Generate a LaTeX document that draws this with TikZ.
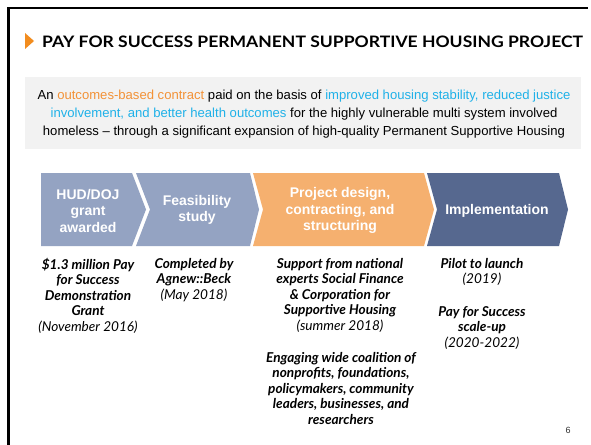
\documentclass[tikz,border=0pt]{standalone}
\usepackage{fontspec}
\setmainfont{Liberation Sans}
\newfontfamily\gill{Lato}
\definecolor{markorange}{HTML}{F28C1E}
\definecolor{panelgray}{HTML}{F2F2F2}
\definecolor{txtorange}{HTML}{F39237}
\definecolor{txtblue}{HTML}{1FB1E8}
\definecolor{chevgray}{HTML}{94A3C2}
\definecolor{chevorange}{HTML}{F5B06F}
\definecolor{chevdark}{HTML}{56688F}
\begin{document}
\begin{tikzpicture}[x=1pt,y=-1pt,
  chevtext/.style={text=white,align=center,inner sep=0pt,
    font=\bfseries\fontsize{14}{16.5}\selectfont},
  note/.style={align=center,inner sep=0pt,anchor=north,
    font=\gill\bfseries\itshape\fontsize{13.6}{15.5}\selectfont},
  body/.style={anchor=base,inner sep=0pt,font=\fontsize{13.1}{18}\selectfont}]
\useasboundingbox (0,0) rectangle (591,444);
\fill[white] (0,0) rectangle (591,444);

% slide frame
\draw[line width=2.5pt] (8.7,446) -- (8.7,8.2) -- (588,8.2);

% title with marker
\fill[markorange] (25,33) -- (34,41) -- (25,49) -- cycle;
\node[anchor=base west,inner sep=0pt,font=\gill\bfseries\fontsize{15.8}{18}\selectfont]
  (title) at (42,48) {\scalebox{1.11}[1]{PAY FOR SUCCESS PERMANENT SUPPORTIVE HOUSING PROJECT}};

% summary panel
\fill[panelgray] (25,77) rectangle (581,149);
\node[body] (l1) at (304,99) {An \textcolor{txtorange}{outcomes-based contract} paid on the basis of \textcolor{txtblue}{improved housing stability, reduced justice}};
\node[body] (l2) at (304,117) {\textcolor{txtblue}{involvement, and better health outcomes} for the highly vulnerable multi system involved};
\node[body] (l3) at (304,135) {homeless -- through a significant expansion of high-quality Permanent Supportive Housing};

% process chevrons
\fill[chevgray] (41,173) -- (132,173) -- (146,209.5) -- (132,246) -- (41,246) -- cycle;
\fill[chevgray] (136,173) -- (250,173) -- (259,209.5) -- (250,246) -- (136,246) -- (150,209.5) -- cycle;
\fill[chevorange] (253,173) -- (424,173) -- (434,209.5) -- (424,246) -- (253,246) -- (263,209.5) -- cycle;
\fill[chevdark] (427,173) -- (559,173) -- (568,209.5) -- (559,246) -- (427,246) -- (437,209.5) -- cycle;

\node[chevtext] (s1) at (88,210.5) {HUD/DOJ\\grant\\awarded};
\node[chevtext] (s2) at (197,210) {Feasibility\\study};
\node[chevtext] (s3) at (340,210.5) {Project design,\\contracting, and\\structuring};
\node[chevtext] (s4) at (497,211) {Implementation};

% notes under each step
\node[note] (n1) at (88,258) {\$1.3 million Pay\\for Success\\Demonstration\\Grant\\{\mdseries(November 2016)}};
\node[note] (n2) at (194,258) {Completed by\\Agnew::Beck\\{\mdseries(May 2018)}};
\node[note] (n3) at (340,258) {Support from national\\experts Social Finance\\\& Corporation for\\Supportive Housing\\{\mdseries(summer 2018)}};
\node[note] (n3b) at (341,352) {Engaging wide coalition of\\nonprofits, foundations,\\policymakers, community\\leaders, businesses, and\\researchers};
\node[note] (n4) at (482,258) {Pilot to launch\\{\mdseries(2019)}};
\node[note] (n4b) at (482,306) {Pay for Success\\scale-up\\{\mdseries(2020-2022)}};

% page number
\node[anchor=base,inner sep=0pt,font=\fontsize{9}{11}\selectfont,text=black!80] (pg) at (568,433) {6};
\end{tikzpicture}
\end{document}
